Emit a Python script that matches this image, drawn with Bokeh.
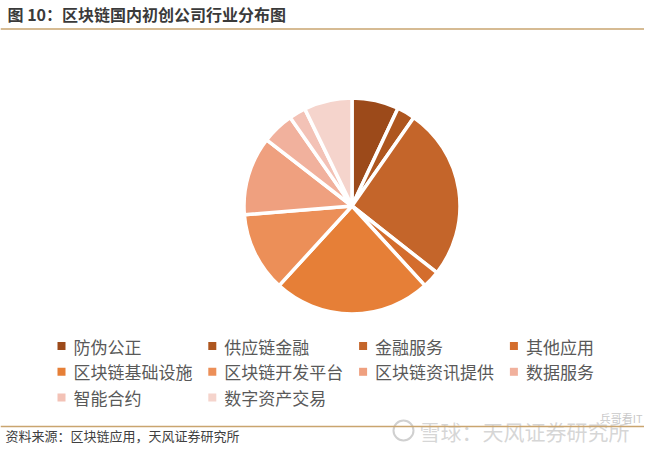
import numpy as np
from bokeh.plotting import figure
from bokeh.models import Range1d, Span, ColumnDataSource
from bokeh.embed import file_html
from bokeh.resources import INLINE
from bokeh.core.properties import value

# ---- data ----
categories = ["防伪公正", "供应链金融", "金融服务", "其他应用", "区块链基础设施",
              "区块链开发平台", "区块链资讯提供", "数据服务", "智能合约", "数字资产交易"]
shares = [7.0, 2.7, 25.9, 2.6, 23.6, 11.9, 11.8, 4.8, 2.5, 7.2]
colors = ["#9C4A1A", "#AE561F", "#C4652A", "#D46D2D", "#E67F37",
          "#EC8F58", "#EFA07F", "#F1B19D", "#F3C2B6", "#F5D4CC"]
title_text = "图 10：区块链国内初创公司行业分布图"
source_text = "资料来源：区块链应用，天风证券研究所"
watermark_text = "雪球：天风证券研究所"
watermark_small = "兵哥看IT"

FONT = "Noto Sans CJK SC"
W, H = 644, 444  # data units == pixels; data y = H - pixel y

p = figure(width=W, height=H, output_backend="svg", toolbar_location=None,
           x_range=Range1d(0, W), y_range=Range1d(0, H),
           x_axis_location=None, y_axis_location=None, min_border=0)
p.outline_line_color = None
p.grid.visible = False
p.background_fill_color = "white"

# ---- pie ----
vals = np.array(shares, dtype=float)
frac = vals / vals.sum()
cum = np.concatenate([[0.0], np.cumsum(frac)])
start = np.pi / 2 - cum[:-1] * 2 * np.pi
end = np.pi / 2 - cum[1:] * 2 * np.pi
src = ColumnDataSource(dict(start=start, end=end, color=colors, cat=categories))
p.wedge(x=351.5, y=H - 205.5, radius=108, start_angle="start", end_angle="end",
        direction="clock", fill_color="color", line_color="white", line_width=3.5,
        source=src)

# ---- legend (manual grid, 4 columns) ----
idx = np.arange(len(categories))
col = idx % 4
row = idx // 4
mx = 61 + col * 150.8
my = H - (345.5 + row * 25.8)
lsrc = ColumnDataSource(dict(x=mx, y=my, tx=mx + 12, color=colors, cat=categories))
p.rect(x="x", y="y", width=8, height=8, fill_color="color", line_color=None, source=lsrc)
p.text(x="tx", y="y", text="cat", source=lsrc, text_font=value(FONT),
       text_font_size="17px", text_color="#595959", text_baseline="middle",
       text_align="left")

# ---- title and rules ----
p.text(x=[7], y=[H - 13], text=[title_text], text_font=value(FONT),
       text_font_size="16px", text_font_style="bold", text_color="#3A3A3A",
       text_baseline="middle", text_align="left")
p.add_layout(Span(location=H - 28.5, dimension="width", line_color="#C9A56F", line_width=1.5))
p.add_layout(Span(location=H - 426, dimension="width", line_color="#C9A56F", line_width=1.5))

# ---- watermark ----
p.circle(x=[403], y=[H - 430], radius=10, fill_color=None, line_color="#D0D0D0",
         line_width=2)
p.text(x=[419], y=[H - 430], text=[watermark_text], text_font=value(FONT),
       text_font_size="21px", text_color="#CFCFCF", text_alpha=0.85,
       text_baseline="middle", text_align="left")
p.text(x=[642], y=[H - 417], text=[watermark_small], text_font=value(FONT),
       text_font_size="11px", text_color="#BDBDBD", text_alpha=0.85,
       text_baseline="middle", text_align="right")

# ---- source note ----
p.text(x=[5], y=[H - 435], text=[source_text], text_font=value(FONT),
       text_font_size="13px", text_color="#404040",
       text_baseline="middle", text_align="left")

open("out.html", "w").write(file_html(p, INLINE))
